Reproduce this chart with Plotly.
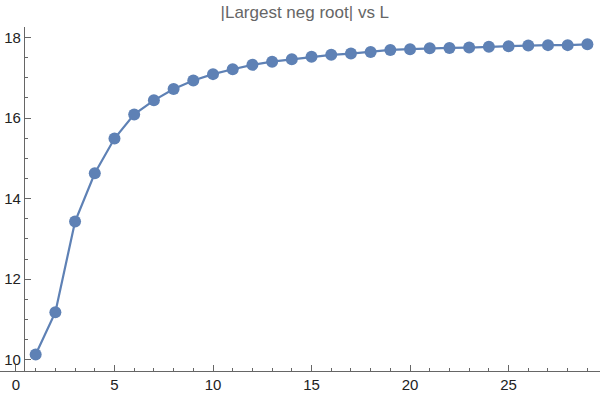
import plotly.graph_objects as go

# L values and |largest negative root|
L = list(range(1, 30))
root = [10.13, 11.18, 13.43, 14.63, 15.49, 16.09, 16.44, 16.72, 16.93, 17.09,
        17.21, 17.32, 17.40, 17.46, 17.52, 17.57, 17.60, 17.64, 17.69, 17.71,
        17.73, 17.74, 17.75, 17.77, 17.78, 17.80, 17.81, 17.81, 17.83]

x_range = [-0.81, 29.64]
y_range = [9.72, 18.26]
y_axis_at = 0.4  # where the vertical axis crosses

fig = go.Figure()
fig.add_trace(go.Scatter(
    x=L, y=root,
    mode='lines+markers',
    line=dict(color='#5E81B5', width=2.2),
    marker=dict(color='#5E81B5', size=12),
    cliponaxis=False,
    showlegend=False
))

tick_font = dict(family='Liberation Sans, Arial, sans-serif', size=15, color='#222')

fig.update_layout(
    width=600, height=395,
    margin=dict(l=0, r=0, t=27, b=24),
    plot_bgcolor='white',
    paper_bgcolor='white',
    title=dict(text='|Largest neg root| vs L', x=0.508, xanchor='center', y=0.97, yanchor='middle',
               font=dict(family='Liberation Sans, Arial, sans-serif', size=17, color='#666')),
    xaxis=dict(
        range=x_range, showgrid=False, zeroline=False,
        showline=True, linecolor='#666', linewidth=1,
        tickmode='linear', tick0=0, dtick=5,
        ticks='inside', ticklen=6, tickcolor='#666',
        minor=dict(dtick=1, ticks='inside', ticklen=3, tickcolor='#666'),
        tickfont=tick_font, automargin=False,
    ),
    yaxis=dict(
        range=y_range, showgrid=False, zeroline=False,
        anchor='free', position=(y_axis_at - x_range[0]) / (x_range[1] - x_range[0]),
        showline=True, linecolor='#666', linewidth=1,
        tickmode='linear', tick0=10, dtick=2,
        ticks='inside', ticklen=6, tickcolor='#666',
        minor=dict(dtick=0.5, ticks='inside', ticklen=3, tickcolor='#666'),
        tickfont=tick_font, automargin=False,
    ),
)

# drop the page's default body margin so the figure sits at the window's corner
fig.write_html("out.html", config={'displayModeBar': False},
               post_script="document.body.style.margin='0';")
